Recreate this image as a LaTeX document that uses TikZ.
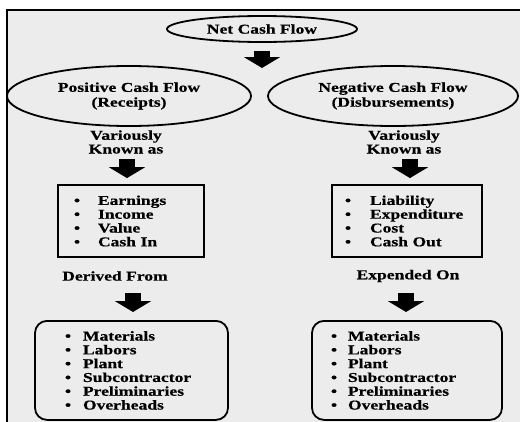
\documentclass[tikz,border=0pt]{standalone}
\usepackage{fontspec}
\newfontfamily\flowfont{Liberation Serif Bold}[FakeStretch=1.3, FakeBold=0.5]
\usetikzlibrary{shapes.geometric,arrows.meta}
\definecolor{panelgray}{RGB}{236,236,236}
\newcommand\cashitem[2]{\makebox[#1][l]{\textbullet}#2}

\begin{document}
\begin{tikzpicture}[x = 1pt, y = -1pt,
    every node/.style = {font = \flowfont\fontsize{13.5}{13.8}\selectfont, inner sep = 0pt},
    oval/.style = {shape = ellipse, draw, line width = 1.8pt, align = center},
    listbox/.style = {draw, line width = 1.8pt, align = left},
    fatarrow/.style = {line width = 16pt, -{Triangle[width = 36pt, length = 11pt]}}]
    \useasboundingbox (0,0) rectangle (520,421);
    \fill[panelgray] (7,10) rectangle (523,424);
    \draw[line width = 1.2pt] (7,424) -- (7,10) -- (523,10);

    % top
    \node[oval, minimum width = 190pt, minimum height = 26pt] (net) at (262,29) {Net Cash Flow};
    \coordinate (split) at (262,68);
    \draw[fatarrow] ([yshift = -8pt]net.south) -- (split);

    \node[oval, minimum width = 244pt, minimum height = 60pt] (pos) at (129,96)
        {Positive Cash Flow\\[1pt](Receipts)};
    \node[oval, minimum width = 250pt, minimum height = 60pt] (neg) at (393,96)
        {Negative Cash Flow\\[1pt](Disbursements)};

    % known as
    \node[align = center] (knownL) at (126,142) {Variously\\Known as};
    \node[align = center] (knownR) at (404,142) {Variously\\Known as};

    \node[listbox, minimum height = 72pt, text width = 114pt, inner xsep = 16pt] (boxL) at (131,221)
        {\cashitem{24pt}{Earnings}\\ \cashitem{24pt}{Income}\\ \cashitem{24pt}{Value}\\ \cashitem{24pt}{Cash In}};
    \node[listbox, minimum height = 72pt, text width = 124pt, inner xsep = 13pt] (boxR) at (407,221)
        {\cashitem{25pt}{Liability}\\ \cashitem{25pt}{Expenditure}\\ \cashitem{25pt}{Cost}\\ \cashitem{25pt}{Cash Out}};

    \coordinate (kL) at (127,159);
    \coordinate (kR) at (410,159);
    \draw[fatarrow, shorten > = 6pt] (kL) -- (kL |- boxL.north);
    \draw[fatarrow, shorten > = 6pt] (kR) -- (kR |- boxR.north);

    % derived / expended
    \node (derived) at (115,276) {Derived From};
    \node (expended) at (408,276) {Expended On};

    \node[listbox, rounded corners = 12pt, anchor = north, minimum height = 99pt,
        text width = 133pt, inner xsep = 30pt] (srcL) at (131.5,320)
        {\cashitem{18pt}{Materials}\\ \cashitem{18pt}{Labors}\\ \cashitem{18pt}{Plant}\\
         \cashitem{18pt}{Subcontractor}\\ \cashitem{18pt}{Preliminaries}\\ \cashitem{18pt}{Overheads}};
    \node[listbox, rounded corners = 12pt, anchor = north, minimum height = 99pt,
        text width = 152pt, inner xsep = 19pt] (srcR) at (407,320)
        {\cashitem{17pt}{Materials}\\ \cashitem{17pt}{Labors}\\ \cashitem{17pt}{Plant}\\
         \cashitem{17pt}{Subcontractor}\\ \cashitem{17pt}{Preliminaries}\\ \cashitem{17pt}{Overheads}};

    \coordinate (dL) at (133,293);
    \coordinate (dR) at (406,293);
    \draw[fatarrow, shorten > = 8pt] (dL) -- (dL |- srcL.north);
    \draw[fatarrow, shorten > = 8pt] (dR) -- (dR |- srcR.north);
\end{tikzpicture}
\end{document}
